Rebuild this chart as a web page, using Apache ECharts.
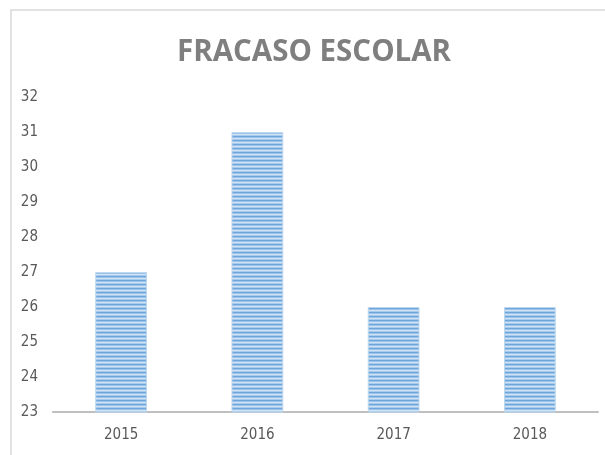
<!DOCTYPE html>
<html lang="es">
  <head>
    <meta charset="UTF-8" />
    <title>Fracaso escolar</title>
    <style>
      html, body { margin: 0; padding: 0; background: #fff; }
      #chart { width: 605px; height: 455px; }
    </style>
    <script src="https://cdn.jsdelivr.net/npm/echarts@6/dist/echarts.min.js"></script>
  </head>
  <body>
    <div id="chart"></div>
    <script>
      const years = ["2015", "2016", "2017", "2018"];
      const values = [27, 31, 26, 26];
      const yMin = 23;
      const yMax = 32;

      // striped fill like the Excel pattern
      function stripes() {
        let c = document.createElement("canvas");
        c.width = 8;
        c.height = 4;
        let ctx = c.getContext("2d");
        let rows = ["#6ea6dc", "#9cc3ea", "#d0e3f5", "#a8cbed"];
        rows.forEach((col, i) => {
          ctx.fillStyle = col;
          ctx.fillRect(0, i, 8, 1);
        });
        return c;
      }

      let chart = echarts.init(document.getElementById("chart"), null, { renderer: "canvas" });
      let option = {
        animation: false,
        title: {
          text: "FRACASO ESCOLAR",
          left: 172,
          top: 33,
          textStyle: { fontFamily: "Open Sans", fontWeight: "bold", fontSize: 29.5, color: "#7f7f7f" },
        },
        graphic: [
          {
            type: "rect",
            shape: { x: 11, y: 10, width: 700, height: 500 },
            style: { fill: "none", stroke: "#d9d9d9", lineWidth: 1.5 },
            silent: true,
          },
        ],
        grid: { left: 53, right: 7, top: 97, bottom: 43 },
        xAxis: {
          type: "category",
          data: years,
          axisLine: { lineStyle: { color: "#bfbfbf", width: 2 } },
          axisTick: { show: false },
          axisLabel: { color: "#595959", fontSize: 15, margin: 16, fontFamily: "Liberation Sans Narrow, DejaVu Sans Condensed, sans-serif" },
        },
        yAxis: {
          type: "value",
          min: yMin,
          max: yMax,
          interval: 1,
          splitLine: { show: false },
          axisLine: { show: false },
          axisTick: { show: false },
          axisLabel: { color: "#595959", fontSize: 15, margin: 15, fontFamily: "Liberation Sans Narrow, DejaVu Sans Condensed, sans-serif" },
        },
        series: [
          {
            type: "bar",
            data: values,
            barWidth: "38%",
            itemStyle: {
              color: { image: stripes(), repeat: "repeat" },
              borderColor: "#bdd7ee",
              borderWidth: 1,
            },
          },
        ],
      };
      chart.setOption(option);
    </script>
  </body>
</html>
